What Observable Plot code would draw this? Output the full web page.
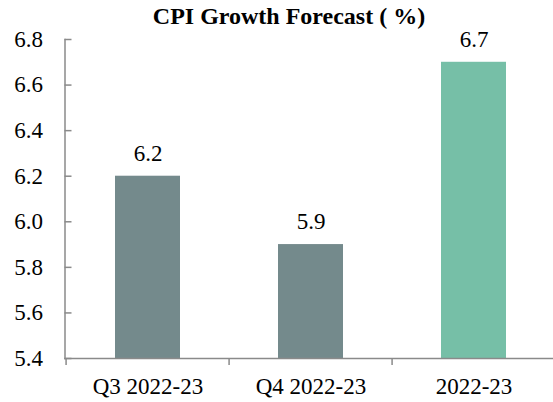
<!DOCTYPE html>
<html>
<head>
<meta charset="utf-8">
<script src="https://cdn.jsdelivr.net/npm/d3@7"></script>
<script src="https://cdn.jsdelivr.net/npm/@observablehq/plot@0.6"></script>
<style>
  html, body { margin: 0; padding: 0; background: #fff; overflow: hidden; }
  #wrap { position: relative; width: 553px; height: 402px; }
  #title { position: absolute; top: 3px; left: 0; width: 578px; text-align: center;
           font-family: "Liberation Serif", serif; font-weight: bold; font-size: 24px; color: #000; }
  svg { position: absolute; top: 0; left: 0; overflow: visible; }
</style>
</head>
<body>
<div id="wrap"><div id="title">CPI Growth Forecast ( %)</div></div>
<script>
const categories = ["Q3 2022-23", "Q4 2022-23", "2022-23"];
const values = [6.2, 5.9, 6.7];
const barColors = ["#748A8C", "#748A8C", "#76BFA7"];
const yTicks = [5.4, 5.6, 5.8, 6.0, 6.2, 6.4, 6.6, 6.8];

const data = categories.map((c, i) => ({category: c, value: values[i], color: barColors[i]}));

const W = 553, H = 402, mL = 64.5, mR = -3, mT = 39, mB = 44;
const plotW = W - mL - mR;
const step = plotW / categories.length;
const axisColor = "#8a8a8a";

const chart = Plot.plot({
  width: W, height: H,
  marginLeft: mL, marginRight: mR, marginTop: mT, marginBottom: mB,
  style: {fontFamily: "'Liberation Serif', serif", fontSize: "23px", color: "#000", background: "transparent"},
  x: {domain: categories, paddingInner: 0.6, paddingOuter: 0.3, axis: null},
  y: {domain: [yTicks[0], yTicks[yTicks.length - 1]], axis: null},
  marks: [
    Plot.barY(data, {x: "category", y1: yTicks[0], y2: "value", fill: "color"}),
    Plot.text(data, {x: "category", y: "value", text: d => d3.format(".1f")(d.value), dy: -23, fontSize: 23, fill: "#000"}),
    Plot.axisY({ticks: yTicks, tickSize: 0, tickPadding: 22, tickFormat: d3.format(".1f"), fontSize: 23, label: null}),
    Plot.ruleY(yTicks, {y: d => d, stroke: axisColor, strokeWidth: 1.5, insetRight: plotW - 7}),
    Plot.axisX({tickSize: 0, tickPadding: 19, fontSize: 23, label: null}),
    Plot.ruleX(categories, {x: d => d, y1: yTicks[0], y2: yTicks[0], dx: -step / 2, insetBottom: -7, stroke: axisColor, strokeWidth: 1.5}),
    Plot.frame({anchor: "left", stroke: axisColor, strokeWidth: 1.5}),
    Plot.frame({anchor: "bottom", stroke: axisColor, strokeWidth: 1.5})
  ]
});
document.getElementById("wrap").prepend(chart);
</script>
</body>
</html>
